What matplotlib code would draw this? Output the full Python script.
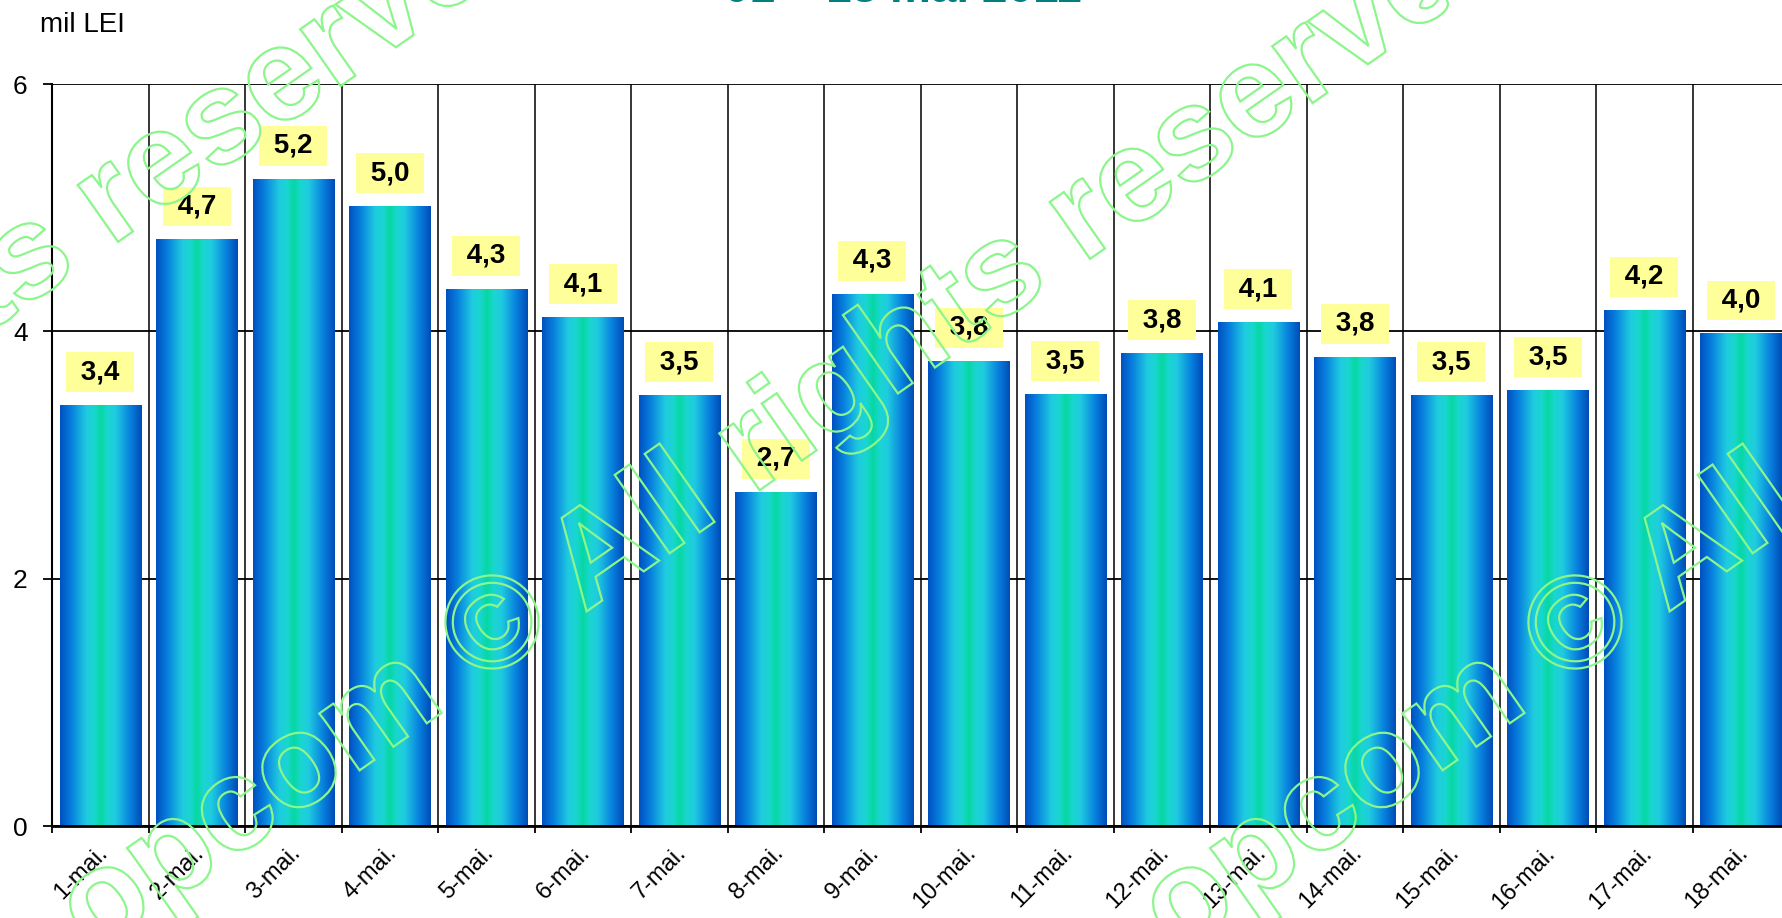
import numpy as np
import matplotlib
matplotlib.use("Agg")
import matplotlib.pyplot as plt
from matplotlib.colors import LinearSegmentedColormap
from matplotlib.font_manager import FontProperties
from matplotlib.textpath import TextPath
from matplotlib.patches import PathPatch
from matplotlib.transforms import Affine2D, IdentityTransform, ScaledTranslation

# data
days = ["1-mai.", "2-mai.", "3-mai.", "4-mai.", "5-mai.", "6-mai.",
        "7-mai.", "8-mai.", "9-mai.", "10-mai.", "11-mai.", "12-mai.",
        "13-mai.", "14-mai.", "15-mai.", "16-mai.", "17-mai.", "18-mai."]
values = [3.40, 4.74, 5.23, 5.01, 4.34, 4.11, 3.48, 2.70, 4.30,
          3.76, 3.49, 3.82, 4.07, 3.79, 3.48, 3.52, 4.17, 3.98]
yticks = [0, 2, 4, 6]
title = "01 – 18 mai 2011"
unit = "mil LEI"
watermark = "opcom © All rights reserved"

labels = [f" {v:.1f} ".replace(".", ",") for v in values]

plt.rcParams['font.family'] = ['Liberation Sans', 'DejaVu Sans']

W, H = 1782, 918
fig = plt.figure(figsize=(W / 100, H / 100), dpi=100)
ax = fig.add_axes([52 / W, 92 / H, 1737 / W, 742 / H])

x = np.arange(len(days))
bars = ax.bar(x, values, width=0.84, color='none', edgecolor='none', zorder=2)

# horizontal blue -> cyan -> green gradient inside each bar
bar_cmap = LinearSegmentedColormap.from_list("bar", [
    (0.00, '#0050C0'), (0.14, '#0880DE'), (0.32, '#1FCBE0'),
    (0.42, '#19D6CF'), (0.50, '#06D8A2'), (0.58, '#19D6CF'),
    (0.68, '#1FCBE0'), (0.86, '#0880DE'), (1.00, '#004CB6')])
grad = np.linspace(0, 1, 256).reshape(1, -1)
for b in bars:
    ax.imshow(grad, cmap=bar_cmap, aspect='auto', interpolation='bilinear',
              extent=[b.get_x(), b.get_x() + b.get_width(), 0, b.get_height()],
              zorder=2)

ax.set_xlim(-0.5, len(days) - 0.5)
ax.set_ylim(0, 6)
ax.set_axisbelow(True)

ax.set_yticks(yticks)
ax.set_xticks(x)
ax.set_xticklabels(days, rotation=45, ha='right', va='center',
                   rotation_mode='anchor')
ax.set_xticks(np.arange(-0.5, len(days)), minor=True)
ax.tick_params(axis='x', which='major', length=0, pad=17, labelsize=17)
ax.tick_params(axis='x', which='minor', length=5, width=1.3, direction='out')
ax.tick_params(axis='y', length=6.5, width=1.3, pad=11, labelsize=19)
shift = ScaledTranslation(4 / 100, 0, fig.dpi_scale_trans)
for t in ax.get_xticklabels():
    t.set_transform(t.get_transform() + shift)

ax.grid(axis='x', which='minor', color='black', lw=1.1)
ax.grid(axis='y', which='major', color='black', lw=1.3)
for s in ['top', 'right']:
    ax.spines[s].set_visible(False)
ax.spines['left'].set_linewidth(1.5)
ax.spines['bottom'].set_linewidth(2)

for xi, v, lab in zip(x, values, labels):
    ax.annotate(lab, (xi, v), xytext=(0, 24), textcoords='offset points',
                ha='center', va='center', fontsize=20, fontweight='bold',
                bbox=dict(boxstyle='square,pad=0.25', fc='#FFFF99', ec='none'),
                zorder=4, annotation_clip=False)

fig.text(903 / W, 1 - 2 / H, title, ha='center', va='baseline',
         fontsize=33, fontweight='bold', color='#008080')
fig.text(40 / W, 1 - 32 / H, unit, ha='left', va='baseline', fontsize=20)

# outlined watermark
prop = FontProperties(family='Liberation Sans', weight='bold', size=132)
wm_path = TextPath((0, 0), watermark, prop=prop)
head = TextPath((0, 0), "opcom ©", prop=prop).get_extents()
c_ext = TextPath((0, 0), "©", prop=prop).get_extents()
cx = head.x1 - c_ext.width / 2
cy = (c_ext.y0 + c_ext.y1) / 2
for px, py in [(-480, 605), (492, 622), (1575, 622)]:
    tr = Affine2D().translate(-cx, -cy).rotate_deg(35).translate(px, H - py)
    fig.add_artist(PathPatch(tr.transform_path(wm_path), fc='none',
                             ec='#8CF58C', lw=1.6,
                             transform=IdentityTransform(), zorder=10))

fig.savefig("out.png", dpi=100)
